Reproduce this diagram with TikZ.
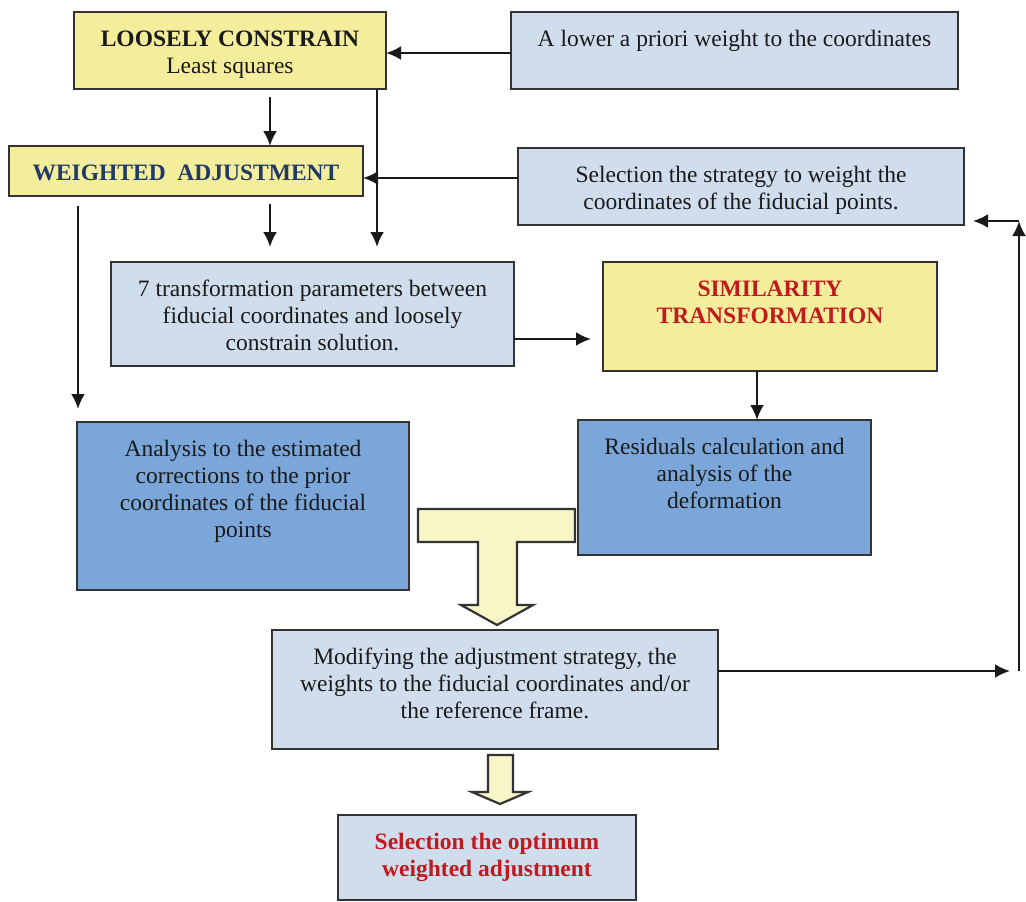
\documentclass[tikz,border=0pt]{standalone}
\usepackage{fontspec}
\setmainfont{Liberation Serif}
\usetikzlibrary{arrows.meta,calc}
\definecolor{yel}{HTML}{F4ED9B}
\definecolor{lblue}{HTML}{CFDDEC}
\definecolor{mblue}{HTML}{7BA6DA}
\definecolor{pyel}{HTML}{F8F5C6}
\definecolor{redt}{HTML}{C0191E}
\definecolor{dblue}{HTML}{1F3A66}
\definecolor{ink}{HTML}{1A1A1A}
\definecolor{edge}{HTML}{333333}
\newcommand\bxt[3]{\parbox[c][#2][t]{#1}{\centering\rule{0pt}{34pt}#3}}
\begin{document}
\begin{tikzpicture}[x=1pt,y=-1pt,
  box/.style={draw=edge, line width=2.2pt, inner sep=0pt, outer sep=0pt, anchor=north west, text=ink, font=\fontsize{23.5}{27}\selectfont},
  yelbox/.style={box, fill=yel},
  lbox/.style={box, fill=lblue},
  mbox/.style={box, fill=mblue},
  arr/.style={draw=black!90, line width=2.4pt, -{Latex[length=15pt,width=14pt]}},
  blk/.style={draw=edge, line width=2.2pt, fill=pyel, line join=miter}]
\useasboundingbox (0,0) rectangle (1026,902);

\node[yelbox] (LC) at (74,12) {\bxt{312pt}{77pt}{\textbf{LOOSELY CONSTRAIN}\\Least squares}};
\node[lbox] (Pr) at (511,12) {\bxt{447pt}{77pt}{A lower a priori weight to the coordinates}};
\node[yelbox] (WA) at (9,146) {\bxt{354pt}{50pt}{\textcolor{dblue}{\textbf{WEIGHTED\ \ ADJUSTMENT}}}};
\node[lbox] (St) at (518,148) {\bxt{446pt}{77pt}{Selection the strategy to weight the\\coordinates of the fiducial points.}};
\node[lbox] (T7) at (111,262) {\bxt{403pt}{104pt}{7 transformation parameters between\\fiducial coordinates and loosely\\constrain solution.}};
\node[yelbox] (Sim) at (603,262) {\bxt{334pt}{109pt}{\textcolor{redt}{\textbf{SIMILARITY\\TRANSFORMATION}}}};
\node[mbox] (An) at (77,422) {\bxt{332pt}{168pt}{Analysis to the estimated\\corrections to the prior\\coordinates of the fiducial\\points}};
\node[mbox] (Res) at (578,420) {\bxt{293pt}{135pt}{Residuals calculation and\\analysis of the\\deformation}};
\node[lbox] (Mod) at (272,630) {\bxt{446pt}{119pt}{Modifying the adjustment strategy, the\\weights to the fiducial coordinates and/or\\the reference frame.}};
\node[lbox] (Sel) at (338,815) {\bxt{298pt}{85pt}{\textcolor{redt}{\textbf{Selection the optimum\\weighted adjustment}}}};

% helper coordinates
\coordinate (xa) at (270,0);
\coordinate (xb) at (377,0);
\coordinate (xc) at (78,0);
\coordinate (xd) at (757,0);
\coordinate (xe) at (1019,0);
\coordinate (ya) at (0,53);
\coordinate (yb) at (0,178);
\coordinate (yc) at (0,339);
\coordinate (yd) at (0,671);
\coordinate (ye) at (0,221);
\coordinate (fb) at (1019,671);

\draw[arr] (Pr.west |- ya) -- (LC.east |- ya);
\draw[arr] ([yshift=-8pt]LC.south -| xa) -- (WA.north -| xa);
\draw[arr] (LC.south -| xb) -- ([yshift=15pt]T7.north -| xb);
\draw[arr] (St.west |- yb) -- (WA.east |- yb);
\draw[arr] ([yshift=-8pt]WA.south -| xa) -- ([yshift=15pt]T7.north -| xa);
\draw[arr] ([yshift=-10pt]WA.south -| xc) -- ([yshift=13pt]An.north -| xc);
\draw[arr] (T7.east |- yc) -- ([xshift=-12pt]Sim.west |- yc);
\draw[arr] (Sim.south -| xd) -- (Res.north -| xd);
\draw[arr] (Mod.east |- yd) -- ([xshift=-9pt]fb);
\draw[arr] (fb) -- (xe |- ye);
\draw[arr] (xe |- ye) -- ([xshift=9pt]St.east |- ye);

% block arrows
\draw[blk] (418,509) -- (575,509) -- (575,542) -- (517,542) -- (517,605) -- (533,605) -- (497,625) -- (461,605) -- (478,605) -- (478,542) -- (418,542) -- cycle;
\draw[blk] (488,755) -- (513,755) -- (513,792) -- (528,792) -- (500,804) -- (472,792) -- (488,792) -- cycle;
\end{tikzpicture}
\end{document}
